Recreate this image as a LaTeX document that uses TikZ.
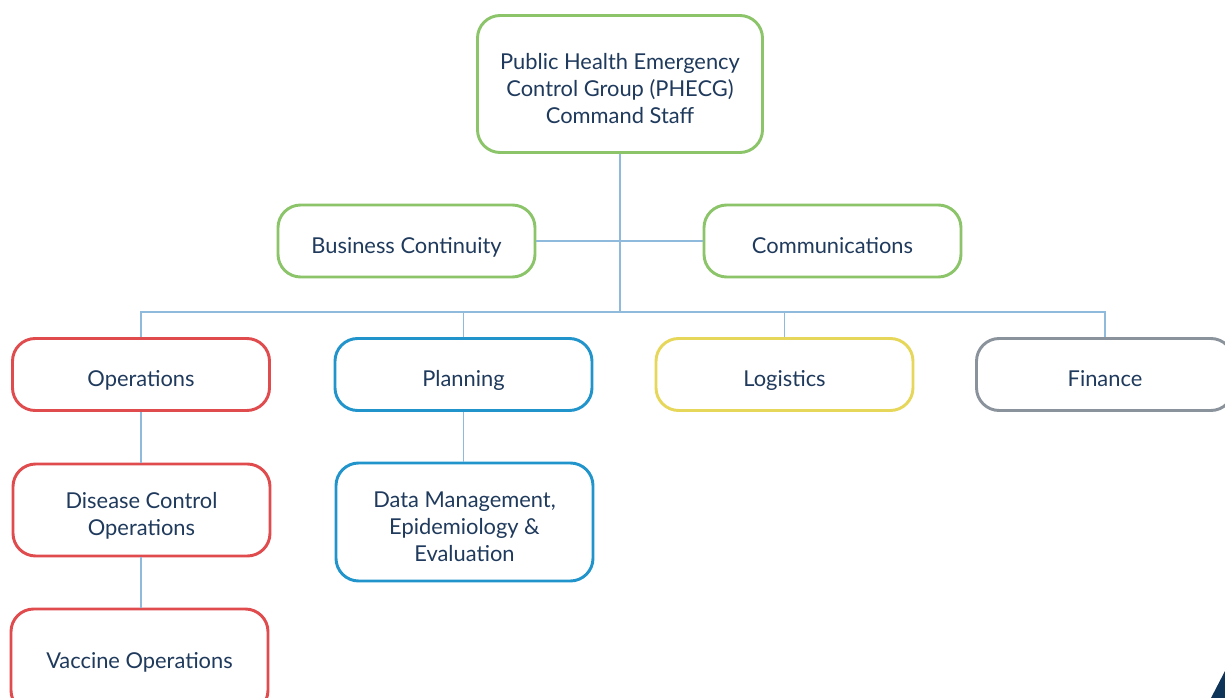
\documentclass[tikz,border=0pt]{standalone}
\usepackage{fontspec}
\setmainfont{Lato}
\definecolor{ink}{HTML}{1F3A5C}
\definecolor{linkblue}{HTML}{8FBADB}
\definecolor{cmdgreen}{HTML}{8CC46A}
\definecolor{opsred}{HTML}{E04B4D}
\definecolor{planblue}{HTML}{2294CC}
\definecolor{logyellow}{HTML}{E6D75A}
\definecolor{fingray}{HTML}{8A929C}
\definecolor{cornernavy}{HTML}{0F3459}
% box text sits a little below the middle
\newcommand\unitlabel[2][-5.2pt]{\raisebox{#1}[\height][\depth]{\begin{tabular}{@{}c@{}}#2\end{tabular}}}

\begin{document}
\begin{tikzpicture}[x=0.75pt, y=-0.75pt,
    unit/.style={draw, line width=2.2pt, rounded corners=17pt, fill=white, text=ink,
        minimum width=192.75pt, minimum height=54pt, inner sep=0pt,
        font=\fontsize{16.4}{20.3}\selectfont},
    link/.style={draw=linkblue, line width=1pt}]
\useasboundingbox (0,0) rectangle (1225,698);

\node[unit, draw=cmdgreen, minimum width=213.75pt, minimum height=102.75pt] (cmd) at (620,84)
    {\unitlabel{Public Health Emergency\\Control Group (PHECG)\\Command Staff}};
\node[unit, draw=cmdgreen] (bc) at (406.5,241) {\unitlabel{Business Continuity}};
\node[unit, draw=cmdgreen] (comm) at (832.5,241) {\unitlabel{Communications}};

\coordinate (bus) at (620,312);

\node[unit, draw=opsred] (ops) at (141,374.5) {\unitlabel{Operations}};
\node[unit, draw=planblue] (plan) at (463.5,374.5) {\unitlabel{Planning}};
\node[unit, draw=logyellow] (log) at (784.5,374.5) {\unitlabel{Logistics}};
\node[unit, draw=fingray] (fin) at (1105,374.5) {\unitlabel{Finance}};

\node[unit, draw=opsred, minimum height=69pt] (dis) at (141.5,510)
    {\unitlabel{Disease Control\\Operations}};
\node[unit, draw=opsred, minimum height=78pt] (vac) at (139.5,661)
    {\unitlabel[-1.5pt]{Vaccine Operations}};
\node[unit, draw=planblue, minimum height=88.5pt] (data) at (464.5,522)
    {\unitlabel{Data Management,\\Epidemiology \&\\Evaluation}};

\draw[link] (cmd.south) -- (bus);
\draw[link] (bc.east) -- (comm.west);
\draw[link] (ops.north) |- (bus) -| (fin.north);
\draw[link] (plan.north) -- (plan.north |- bus);
\draw[link] (log.north) -- (log.north |- bus);
\draw[link] (ops.south) -- (ops.south |- dis.north);
\draw[link] (ops.south |- dis.south) -- (ops.south |- vac.north);
\draw[link] (plan.south) -- (plan.south |- data.north);

\fill[cornernavy] (1211,698) -- (1225,671) -- (1225,698) -- cycle;
\end{tikzpicture}
\end{document}
